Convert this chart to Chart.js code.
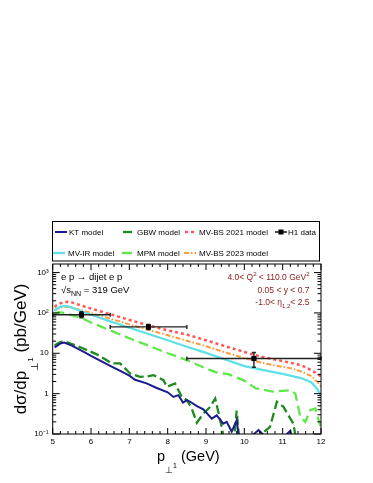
<!DOCTYPE html>
<html lang="en">
<head>
<meta charset="UTF-8">
<title>dijet pT1 cross section</title>
<script src="https://cdn.jsdelivr.net/npm/chart.js"></script>
<style>
  body { margin: 0; background: #fff; }
</style>
</head>
<body>
<canvas id="ptChart" width="373" height="483"></canvas>
<script>
// model curves, x = p_perp1 (GeV), y = dsigma/dp (pb/GeV)
const ktX = [5.05, 5.1, 5.2, 5.3, 5.5, 5.8, 6.0, 6.25, 6.5, 6.75, 7.0, 7.15, 7.45, 7.7, 8.0, 8.15, 8.28, 8.4, 8.5, 8.6, 8.75, 8.93, 9.15, 9.28, 9.45, 9.54, 9.67, 9.8, 9.9, 10.15, 10.25, 10.37, 10.5, 10.6, 11.0, 11.11, 11.2, 11.3, 12.0];
const ktY = [14, 15, 17.5, 18.4, 15.5, 11, 8.6, 6.5, 4.9, 3.7, 2.8, 2.2, 1.8, 1.4, 1.08, 0.83, 0.92, 0.6, 0.69, 0.62, 0.5, 0.41, 0.24, 0.29, 0.18, 0.2, 0.115, 0.22, 0.04, 0.04, 0.1, 0.125, 0.095, 0.04, 0.04, 0.1, 0.12, 0.04, 0.04];

const gbwX = [5.05, 5.1, 5.2, 5.3, 5.5, 5.8, 6.15, 6.4, 6.54, 6.76, 7.02, 7.28, 7.45, 7.63, 7.89, 7.98, 8.19, 8.37, 8.5, 8.62, 8.76, 8.93, 9.11, 9.24, 9.41, 9.5, 9.72, 9.8, 9.88, 10.37, 10.5, 10.67, 10.85, 11.02, 11.2, 11.28, 11.38, 12.0];
const gbwY = [15.5, 16.7, 19, 19.8, 17, 13.1, 9.4, 6.8, 5.6, 5.6, 3.15, 2.6, 2.65, 2.87, 2.15, 1.47, 1.79, 0.83, 0.69, 0.45, 0.19, 0.32, 0.47, 0.76, 0.15, 0.05, 0.05, 0.38, 0.05, 0.05, 0.11, 0.15, 0.63, 0.47, 0.24, 0.18, 0.05, 0.05];

const bs21X = [5.05, 5.1, 5.2, 5.3, 5.4, 5.5, 5.75, 6.0, 6.5, 7.0, 7.5, 8.0, 8.5, 9.0, 9.5, 10.0, 10.25, 10.5, 11.0, 11.25, 11.5, 11.75, 12.0];
const bs21Y = [140, 155, 172, 185, 188, 182, 152, 128, 93, 67, 49, 37, 29, 21, 15, 10.8, 9.2, 8.0, 6.4, 5.7, 5.0, 3.8, 2.7];

const irX = [5.05, 5.1, 5.2, 5.3, 5.4, 5.5, 5.75, 6.0, 6.5, 7.0, 7.5, 8.0, 8.5, 9.0, 9.5, 10.0, 10.25, 10.5, 11.0, 11.5, 11.75, 11.9, 12.0];
const irY = [112, 125, 142, 150, 145, 136, 110, 90, 62, 43, 30, 21, 14.5, 10.2, 7.0, 4.8, 4.3, 3.8, 3.1, 2.4, 1.9, 1.3, 0.9];

const mpmX = [5.05, 5.15, 5.3, 5.5, 5.75, 6.0, 6.5, 7.0, 7.5, 8.0, 8.5, 9.0, 9.25, 9.6, 10.0, 10.3, 10.75, 11.2, 11.33, 11.46, 11.59, 11.72, 11.85, 11.95, 12.0];
const mpmY = [95, 105, 100, 88, 75, 58, 37, 23.5, 15.5, 10, 6.8, 4.2, 3.4, 3.0, 2.1, 1.35, 1.12, 1.22, 1.0, 0.27, 0.2, 0.39, 0.43, 0.2, 0.15];

const bs23X = [5.05, 5.1, 5.2, 5.3, 5.4, 5.5, 5.75, 6.0, 6.5, 7.0, 7.5, 8.0, 8.5, 9.0, 9.5, 10.0, 10.25, 10.5, 11.0, 11.25, 11.5, 11.75, 11.9, 12.0];
const bs23Y = [115, 122, 135, 142, 140, 134, 116, 100, 72, 52, 38, 28, 20.5, 15, 10.5, 7.6, 6.6, 5.7, 4.6, 4.2, 3.5, 2.7, 2.0, 1.5];

// H1 data with bin edges and errors
const h1X = [5.75, 7.5, 10.25];
const h1Y = [90, 45, 7.4];
const h1XLow = [5, 6.5, 8.5];
const h1XHigh = [6.5, 8.5, 12];
const h1YLow = [76, 38.5, 4.5];
const h1YHigh = [107, 52, 10.5];

// axes
const xTicks = [5, 6, 7, 8, 9, 10, 11, 12];
const yTicks = [0.1, 1, 10, 100, 1000];
const yTickLabels = ['10\u207B\u00B9', '1', '10', '10\u00B2', '10\u00B3'];

const FONT = '"Liberation Sans", Arial, sans-serif';

function pts(xs, ys) {
    return xs.map((v, i) => ({ x: v, y: ys[i] }));
}

function curve(label, xs, ys, color, width, dash) {
    return {
        label: label,
        data: pts(xs, ys),
        showLine: true,
        borderColor: color,
        backgroundColor: color,
        borderWidth: width,
        borderDash: dash,
        pointRadius: 0,
        tension: 0,
        clip: 0
    };
}

// draws a run of text pieces [text, size, dy]
function richText(ctx, x, y, parts, align) {
    let w = 0;
    parts.forEach(p => { ctx.font = p[1] + 'px ' + FONT; w += ctx.measureText(p[0]).width; });
    let cx = align === 'right' ? x - w : align === 'center' ? x - w / 2 : x;
    parts.forEach(p => {
        ctx.font = p[1] + 'px ' + FONT;
        ctx.fillText(p[0], cx, y + (p[2] || 0));
        cx += ctx.measureText(p[0]).width;
    });
    return w;
}

const rootStyle = {
    id: 'rootStyle',
    afterDatasetsDraw(chart) {
        const ctx = chart.ctx;
        const a = chart.chartArea;
        const xs = chart.scales.x, ys = chart.scales.y;
        ctx.save();

        // H1 error bars
        ctx.strokeStyle = '#222';
        ctx.lineWidth = 1.4;
        h1X.forEach((v, i) => {
            const px = xs.getPixelForValue(v), py = ys.getPixelForValue(h1Y[i]);
            const x0 = xs.getPixelForValue(h1XLow[i]), x1 = xs.getPixelForValue(h1XHigh[i]);
            const y0 = ys.getPixelForValue(h1YLow[i]), y1 = ys.getPixelForValue(h1YHigh[i]);
            ctx.beginPath();
            ctx.moveTo(x0, py); ctx.lineTo(x1, py);
            ctx.moveTo(x0, py - 2); ctx.lineTo(x0, py + 2);
            ctx.moveTo(x1, py - 2); ctx.lineTo(x1, py + 2);
            ctx.moveTo(px, y0); ctx.lineTo(px, y1);
            ctx.moveTo(px - 2, y0); ctx.lineTo(px + 2, y0);
            ctx.moveTo(px - 2, y1); ctx.lineTo(px + 2, y1);
            ctx.stroke();
            ctx.fillStyle = '#000';
            ctx.fillRect(px - 2.5, py - 2.5, 5, 5);
        });

        // frame and inward ticks
        ctx.strokeStyle = '#000';
        ctx.lineWidth = 1;
        ctx.strokeRect(a.left, a.top, a.right - a.left, a.bottom - a.top);
        ctx.beginPath();
        for (let k = 0; k <= 35; k++) {
            const v = 5 + k * 0.2;
            const p = xs.getPixelForValue(v);
            const len = k % 5 === 0 ? 6 : 3;
            ctx.moveTo(p, a.bottom); ctx.lineTo(p, a.bottom - len);
            ctx.moveTo(p, a.top); ctx.lineTo(p, a.top + len);
        }
        for (let d = -1; d <= 3; d++) {
            for (let m = 1; m <= 9; m++) {
                const v = m * Math.pow(10, d);
                if (v > ys.max) break;
                const p = ys.getPixelForValue(v);
                const len = m === 1 ? 7 : 3.5;
                ctx.moveTo(a.left, p); ctx.lineTo(a.left + len, p);
                ctx.moveTo(a.right, p); ctx.lineTo(a.right - len, p);
            }
        }
        ctx.stroke();

        // axis titles
        ctx.fillStyle = '#000';
        ctx.textBaseline = 'alphabetic';
        ctx.textAlign = 'left';
        richText(ctx, 157, 461, [['p', 14.5], ['\u22A5', 8.5, 12], ['1', 7, 7], [' (GeV)', 14.5]], 'left');
        ctx.save();
        ctx.translate(26, 349);
        ctx.rotate(-Math.PI / 2);
        richText(ctx, 0, 0, [['d\u03C3/dp', 17], ['\u22A5', 9.5, 12], ['1', 8, 7], [' (pb/GeV)', 17]], 'center');
        ctx.restore();

        // annotations
        richText(ctx, 61, 280, [['e p \u2192 dijet e p', 9.5]], 'left');
        richText(ctx, 61, 293, [['\u221As', 9.5], ['NN', 7, 3], [' = 319 GeV', 9.5]], 'left');
        ctx.fillStyle = '#8b2020';
        richText(ctx, 309.5, 280, [['4.0< Q', 8.5], ['2', 6, -4], [' < 110.0 GeV', 8.5], ['2', 6, -4]], 'right');
        richText(ctx, 309.5, 293, [['0.05 < y < 0.7', 8.5]], 'right');
        richText(ctx, 309.5, 305, [['-1.0< \u03B7', 8.5], ['1,2', 6, 3], ['< 2.5', 8.5]], 'right');

        // legend box
        ctx.strokeStyle = '#000';
        ctx.lineWidth = 1;
        ctx.strokeRect(52.5, 221.5, 267, 39.5);
        const rows = [
            [[1, 55, 69], [2, 123, 137], [3, 185, 199], [0, 275, 288]],
            [[4, 53, 68], [5, 122, 137], [6, 184, 199]]
        ];
        const rowY = [232, 253];
        rows.forEach((row, r) => {
            row.forEach(item => {
                const ds = chart.data.datasets[item[0]];
                const y = rowY[r];
                ctx.save();
                if (item[0] === 0) {
                    ctx.strokeStyle = '#000';
                    ctx.lineWidth = 1.4;
                    ctx.beginPath();
                    ctx.moveTo(item[1], y); ctx.lineTo(item[1] + 12, y);
                    ctx.stroke();
                    ctx.fillStyle = '#000';
                    ctx.fillRect(item[1] + 3.5, y - 2.5, 5, 5);
                } else {
                    ctx.strokeStyle = ds.borderColor;
                    ctx.lineWidth = ds.borderWidth;
                    ctx.setLineDash(ds.borderDash || []);
                    ctx.beginPath();
                    ctx.moveTo(item[1], y); ctx.lineTo(item[1] + 12, y);
                    ctx.stroke();
                }
                ctx.restore();
                ctx.fillStyle = '#000';
                ctx.textBaseline = 'middle';
                ctx.font = '8px ' + FONT;
                ctx.fillText(ds.label, item[2], y + 0.5);
            });
        });
        ctx.restore();
    }
};

const chartData = {
    datasets: [
        {
            label: 'H1 data',
            data: pts(h1X, h1Y),
            showLine: false,
            pointStyle: 'rect',
            pointRadius: 2.5,
            borderColor: '#000',
            backgroundColor: '#000',
            clip: 0
        },
        curve('KT model', ktX, ktY, '#1c1c8c', 2, []),
        curve('GBW model', gbwX, gbwY, '#1f8a1f', 2.3, [9, 4]),
        curve('MV-BS 2021 model', bs21X, bs21Y, '#ff5555', 2.5, [3, 3]),
        curve('MV-IR model', irX, irY, '#5ee0e6', 2.3, []),
        curve('MPM model', mpmX, mpmY, '#5fe64a', 2.3, [10, 5]),
        curve('MV-BS 2023 model', bs23X, bs23Y, '#ff9a3c', 2, [5, 2, 1.5, 2])
    ]
};

const config = {
    type: 'scatter',
    data: chartData,
    options: {
        responsive: false,
        animation: false,
        events: [],
        layout: { padding: { top: 264, right: 52, left: 0, bottom: 0 } },
        plugins: { legend: { display: false }, tooltip: { enabled: false } },
        scales: {
            x: {
                type: 'linear',
                min: 5,
                max: 12,
                grid: { display: false, drawTicks: false },
                border: { display: false },
                afterBuildTicks: s => { s.ticks = xTicks.map(v => ({ value: v })); },
                ticks: { color: '#000', font: { family: FONT, size: 8 }, padding: 3, maxRotation: 0, autoSkip: false },
                afterFit: s => { s.height = 49; }
            },
            y: {
                type: 'logarithmic',
                min: 0.1,
                max: 1630,
                grid: { display: false, drawTicks: false },
                border: { display: false },
                afterBuildTicks: s => { s.ticks = yTicks.map(v => ({ value: v })); },
                ticks: {
                    color: '#000',
                    font: { family: FONT, size: 8 },
                    padding: 4,
                    autoSkip: false,
                    callback: (v, i) => yTickLabels[i]
                },
                afterFit: s => { s.width = 52.7; }
            }
        }
    },
    plugins: [rootStyle]
};

new Chart(document.getElementById('ptChart').getContext('2d'), config);
</script>
</body>
</html>
